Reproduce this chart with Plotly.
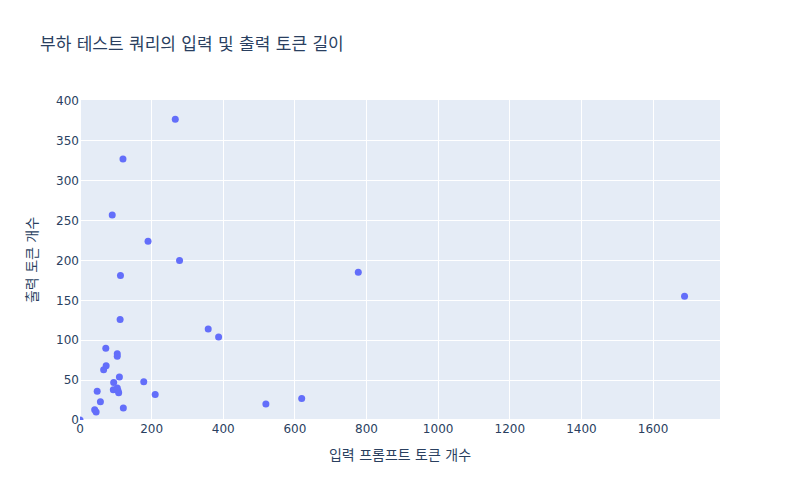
import plotly.graph_objects as go

# 입력/출력 토큰 개수
input_tokens = [0, 41, 45, 48, 57, 66, 72, 73, 93, 94, 104, 104, 104, 106, 108, 110,
                112, 113, 120, 121, 178, 190, 210, 266, 278, 358, 387, 90,
                519, 619, 777, 1688]
output_tokens = [0, 13, 10, 36, 23, 63, 90, 68, 38, 47, 83, 80, 40, 37, 34, 54,
                 126, 181, 327, 15, 48, 224, 32, 377, 200, 114, 104, 257,
                 20, 27, 185, 155]

fig = go.Figure()
fig.add_trace(go.Scatter(x=input_tokens, y=output_tokens, mode='markers',
                         marker=dict(color='#636efa', size=7)))

fig.update_layout(title_text="부하 테스트 쿼리의 입력 및 출력 토큰 길이",
                  font_family="DejaVu Sans, Noto Sans CJK KR, sans-serif",
                  width=800, height=500,
                  margin=dict(l=80, r=80, t=100, b=80),
                  showlegend=False)
fig.update_xaxes(title_text="입력 프롬프트 토큰 개수", range=[0, 1787])
fig.update_yaxes(title_text="출력 토큰 개수", range=[0, 401])

# 페이지 기본 여백 제거
fig.write_html("out.html", config={'displayModeBar': False},
               post_script="document.body.style.margin='0';")
